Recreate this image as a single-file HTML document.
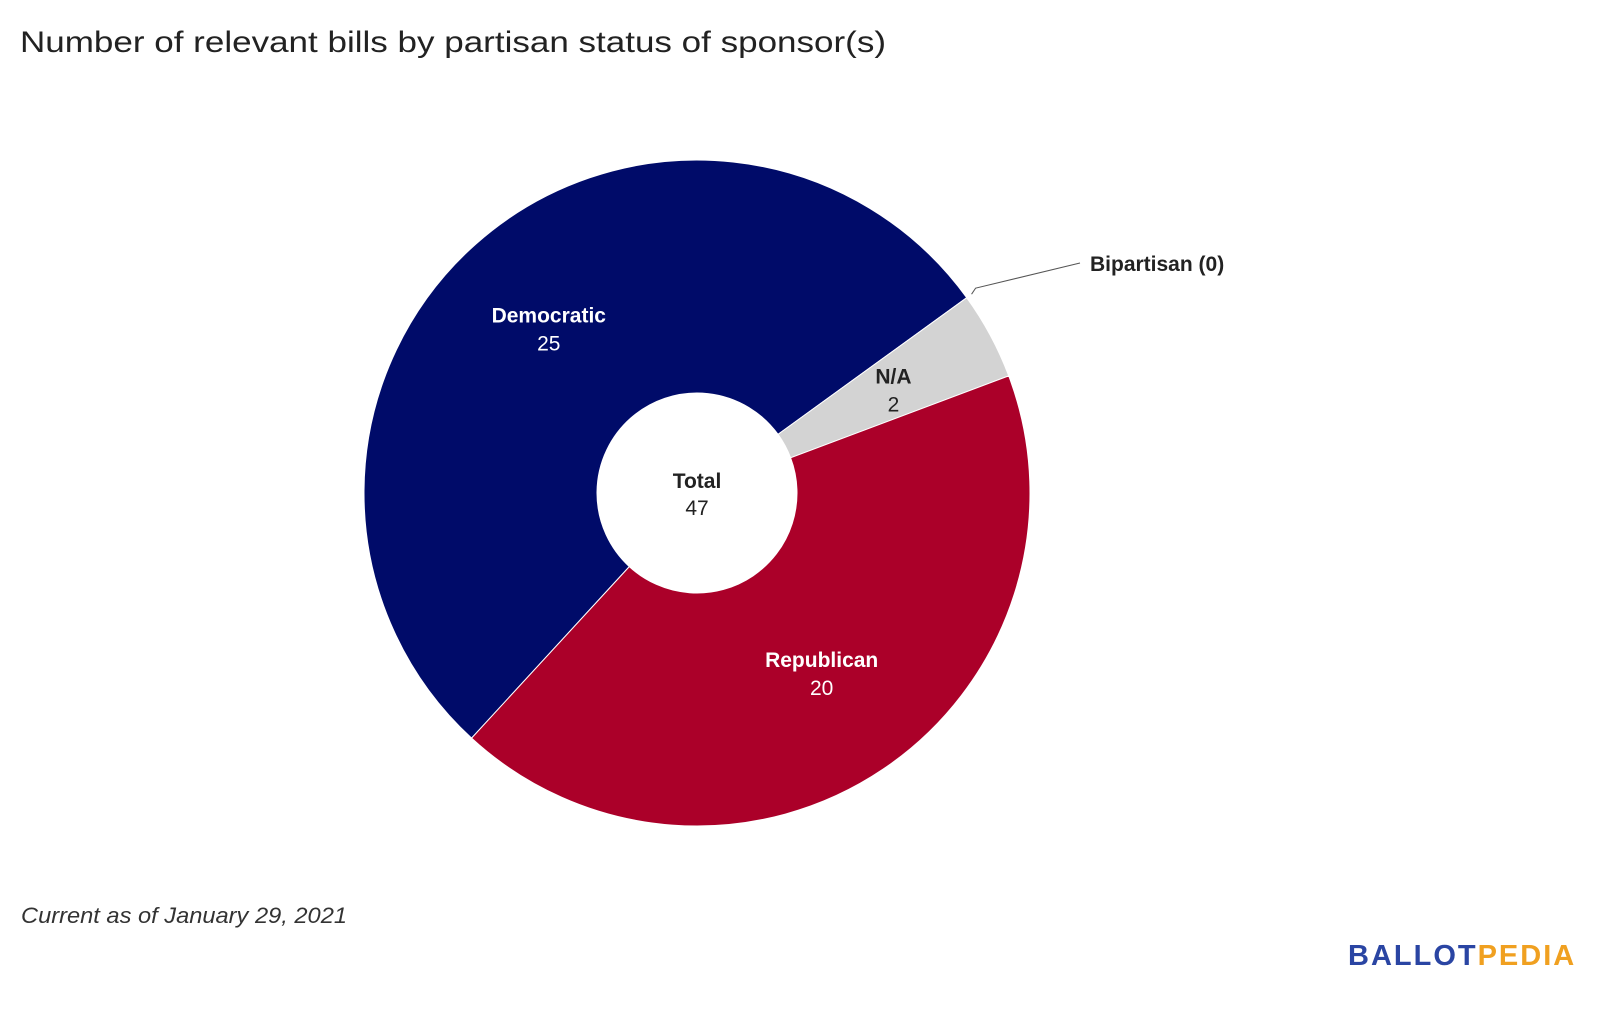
<!DOCTYPE html>
<html><head><meta charset="utf-8"><style>
body{margin:0;background:#fff;width:1600px;height:1015px;overflow:hidden;font-family:"Liberation Sans",sans-serif}
</style></head><body>
<svg id="chart" width="1600" height="1015" xmlns="http://www.w3.org/2000/svg">
<text x="20" y="52" font-size="30" fill="#222" textLength="866" lengthAdjust="spacingAndGlyphs">Number of relevant bills by partisan status of sponsor(s)</text>
<g id="slices"></g>
<g id="labels"></g>
<text x="21" y="923" font-size="22" font-style="italic" fill="#333" textLength="326" lengthAdjust="spacingAndGlyphs">Current as of January 29, 2021</text>
<g font-size="29" font-weight="bold" letter-spacing="2">
<text x="1348" y="965" fill="#2a45a3">BALLOT<tspan fill="#f0a020">PEDIA</tspan></text>
</g>
</svg>
<script>
const categories=["Democratic","Bipartisan","N/A","Republican"];
const values=[25,0,2,20];
const colors=["#000b69","#888","#d3d3d3","#ab0029"];
const labelColors=["#fff","#222","#222","#fff"];
const cx=697,cy=493,R=333,r0=100,startDeg=222.6;
const ns="http://www.w3.org/2000/svg";
const total=values.reduce((a,b)=>a+b,0);
function pt(deg,rad){const a=deg*Math.PI/180;return [cx+rad*Math.sin(a),cy-rad*Math.cos(a)];}
const sg=document.getElementById('slices'),lg=document.getElementById('labels');
let ang=startDeg;
values.forEach((v,i)=>{
  const sweep=v/total*360;const a0=ang,a1=ang+sweep;ang=a1;
  if(v>0){
    const [x0,y0]=pt(a0,R),[x1,y1]=pt(a1,R),[x2,y2]=pt(a1,r0),[x3,y3]=pt(a0,r0);
    const lf=sweep>180?1:0;
    const p=document.createElementNS(ns,'path');
    p.setAttribute('d',`M${x0},${y0}A${R},${R} 0 ${lf} 1 ${x1},${y1}L${x2},${y2}A${r0},${r0} 0 ${lf} 0 ${x3},${y3}Z`);
    p.setAttribute('fill',colors[i]);p.setAttribute('stroke','#fff');p.setAttribute('stroke-width','1');
    
    
    sg.appendChild(p);
    let [lx,ly]=pt((a0+a1)/2,223);
    if(categories[i]==="Republican"){ly-=7;}
    const t=document.createElementNS(ns,'text');
    t.setAttribute('x',lx);t.setAttribute('y',ly-4);t.setAttribute('text-anchor','middle');
    t.setAttribute('font-size','21');t.setAttribute('font-weight','bold');t.setAttribute('fill',labelColors[i]);
    t.textContent=categories[i];
    
    
    lg.appendChild(t);
    const t2=document.createElementNS(ns,'text');
    t2.setAttribute('x',lx);t2.setAttribute('y',ly+24);t2.setAttribute('text-anchor','middle');
    t2.setAttribute('font-size','21');t2.setAttribute('fill',labelColors[i]);
    t2.textContent=v;
    
    
    lg.appendChild(t2);
  } else {
    const [x0,y0]=pt(a0,R+6);
    const l=document.createElementNS(ns,'polyline');
    l.setAttribute('points',`${x0},${y0} ${x0+4},${y0-6} ${1080},${263}`);
    l.setAttribute('fill','none');l.setAttribute('stroke','#555');l.setAttribute('stroke-width','1');
    
    
    lg.appendChild(l);
    const t=document.createElementNS(ns,'text');
    t.setAttribute('x',1090);t.setAttribute('y',271);t.setAttribute('font-size','21');t.setAttribute('font-weight','bold');t.setAttribute('fill','#222');
    t.textContent=categories[i]+' ('+v+')';
    
    
    lg.appendChild(t);
  }
});
const tt=document.createElementNS(ns,'text');
tt.setAttribute('x',cx);tt.setAttribute('y',cy-5);tt.setAttribute('text-anchor','middle');tt.setAttribute('font-size','21');tt.setAttribute('font-weight','bold');tt.setAttribute('fill','#222');
tt.textContent='Total';


lg.appendChild(tt);
const tv=document.createElementNS(ns,'text');
tv.setAttribute('x',cx);tv.setAttribute('y',cy+22);tv.setAttribute('text-anchor','middle');tv.setAttribute('font-size','21');tv.setAttribute('fill','#222');
tv.textContent=total;


lg.appendChild(tv);
</script>
</body></html>
